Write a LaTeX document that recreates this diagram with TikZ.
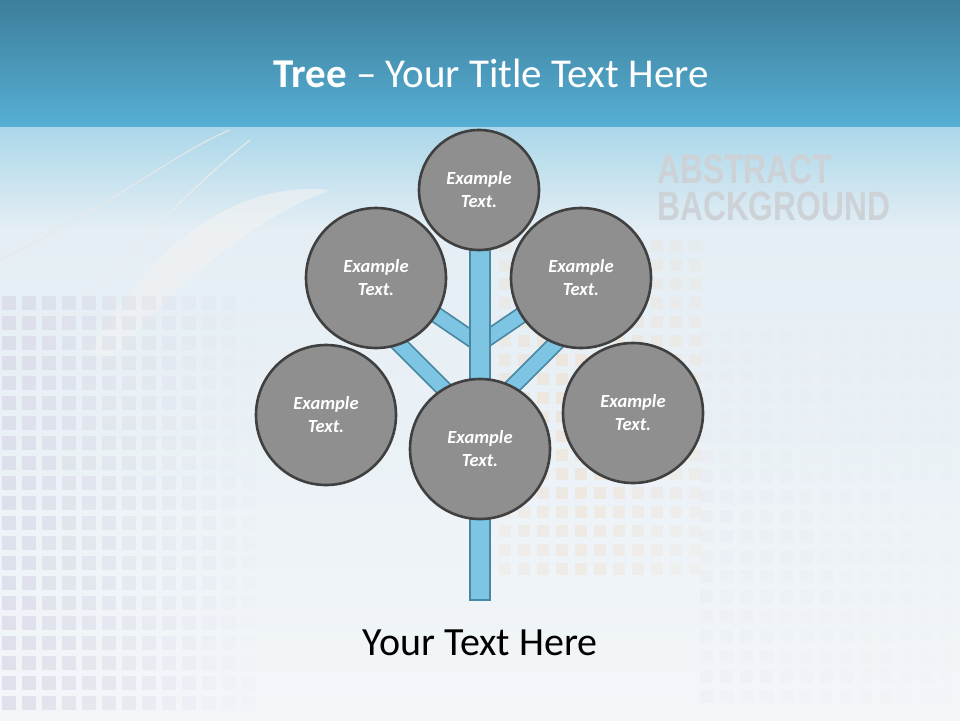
\documentclass[tikz,border=0pt]{standalone}
\usepackage{fontspec}
\setmainfont{Carlito}
\newfontfamily\absfont{Liberation Sans}
\definecolor{hdtop}{HTML}{3D7E9B}
\definecolor{hdbot}{HTML}{56AFD4}
\definecolor{bgA}{HTML}{E4EEF4}
\definecolor{bgB}{HTML}{F3F6F9}
\definecolor{circfill}{HTML}{8F8F8F}
\definecolor{circline}{HTML}{404040}
\definecolor{brfill}{HTML}{7EC4E3}
\definecolor{brline}{HTML}{4A87A3}
\definecolor{lav}{HTML}{D8D8E6}
\definecolor{peach}{HTML}{F2DCC8}
\definecolor{abscol}{HTML}{CDD2D7}
\tikzset{
  bubble/.style={circle, fill=circfill, draw=circline, line width=2.6pt,
    minimum size=#1, inner sep=0pt, text=white, align=center,
    font=\fontsize{18.5}{23}\selectfont\bfseries\itshape},
  branchout/.style={draw=brline, line width=17pt},
  branchin/.style={draw=brfill, line width=13.5pt}
}
\begin{document}
\begin{tikzpicture}[x=1pt,y=-1pt]
\useasboundingbox (0,0) rectangle (960,720);
% background
\fill[bgB] (0,0) rectangle (960,720);
\shade[top color=bgA, bottom color=bgB] (0,230) rectangle (960,720);
\shade[top color=hdbot!50!white, bottom color=bgA] (0,126) rectangle (960,230);
\shade[top color=hdtop, bottom color=hdbot] (0,0) rectangle (960,126);
% faint swirls
\draw[gray!18, line width=1pt] (0,260) .. controls (120,200) and (180,150) .. (230,130);
\draw[gray!15, line width=1pt] (60,330) .. controls (140,240) and (200,180) .. (250,140);
\fill[gray!10, opacity=0.6] (90,350) .. controls (150,250) and (230,180) .. (330,190) .. controls (250,220) and (170,290) .. (110,360) -- cycle;
% lavender squares lower-left
\foreach \i in {0,...,12}{
  \foreach \j in {0,...,20}{
    \pgfmathsetmacro{\op}{max(0,0.7-0.055*\i)}
    \fill[lav, opacity=\op] (\i*20+2, 296+\j*20) rectangle ++(14,14);
  }
}
% peach squares centre
\foreach \i in {0,...,11}{
  \foreach \j in {0,...,17}{
    \pgfmathsetmacro{\op}{max(0,0.55-0.04*abs(\i-5)-0.02*abs(\j-8))}
    \fill[peach, opacity=\op] (480+\i*19, 240+\j*19) rectangle ++(12,12);
  }
}
% faint right squares
\foreach \i in {0,...,12}{
  \foreach \j in {0,...,18}{
    \pgfmathsetmacro{\op}{max(0,0.3-0.02*\i)}
    \fill[lav!60!white, opacity=\op] (700+\i*20, 330+\j*20) rectangle ++(13,13);
  }
}
% abstract background text
\node[anchor=north west, inner sep=0pt, text=abscol, align=left,
  font=\absfont\bfseries\fontsize{41}{37}\selectfont] (abs) at (657,155)
  {\scalebox{0.775}[1]{ABSTRACT}\\\scalebox{0.775}[1]{BACKGROUND}};
% title
\node[text=white, font=\fontsize{41}{48}\selectfont, anchor=base] (title) at (491,87) {{\bfseries Tree} – Your Title Text Here};
% branches
\coordinate (jl) at (479,424);
\coordinate (jr) at (479,420);
\coordinate (ju) at (479,344);
\coordinate (el) at (388,333);
\coordinate (er) at (570,329);
\coordinate (eul) at (429,310);
\coordinate (eur) at (529,310);
\foreach \a/\b in {jl/el, jr/er, ju/eul, ju/eur}{
  \draw[branchout] (\a) -- (\b);
  \draw[branchin] (\a) -- (\b);
}
% trunk
\node[draw=brline, fill=brfill, line width=2pt, minimum width=20pt, minimum height=350pt, inner sep=0pt] (trunk) at (479.5,425) {};
% circles
\node[bubble=120pt] (top) at (479,190) {Example\\Text.};
\node[bubble=140pt] (ul) at (376,278) {Example\\Text.};
\node[bubble=140pt] (ur) at (581,278) {Example\\Text.};
\node[bubble=140pt] (ll) at (326,415) {Example\\Text.};
\node[bubble=140pt] (lr) at (633,413) {Example\\Text.};
\node[bubble=140pt] (bc) at (480,449) {Example\\Text.};
% bottom text
\node[font=\fontsize{40}{46}\selectfont, text=black, anchor=base] (foot) at (480,655) {Your Text Here};
\end{tikzpicture}
\end{document}
